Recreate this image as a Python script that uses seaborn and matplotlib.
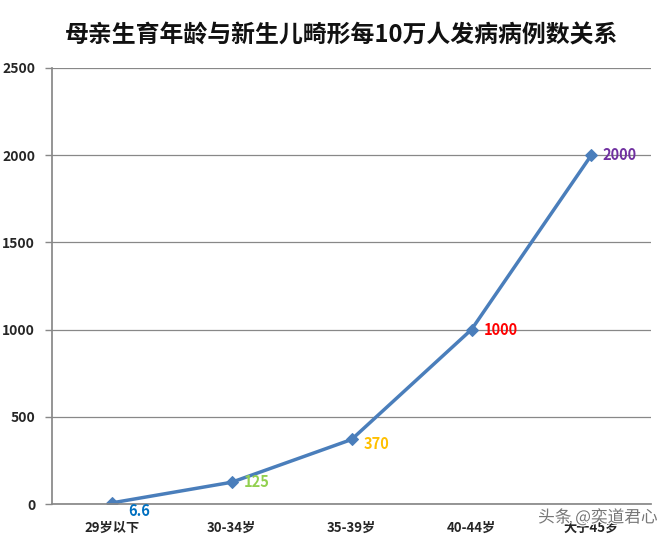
import matplotlib
matplotlib.use("Agg")
import matplotlib.pyplot as plt
import matplotlib.patheffects as pe
from matplotlib.ticker import FixedLocator
import seaborn as sns
import pandas as pd

categories = ["29岁以下", "30-34岁", "35-39岁", "40-44岁", "大于45岁"]
values = [6.6, 125, 370, 1000, 2000]
value_labels = ["6.6", "125", "370", "1000", "2000"]
label_colors = ["#0070C0", "#92D050", "#FFC000", "#FF0000", "#7030A0"]
yticks = [0, 500, 1000, 1500, 2000, 2500]
title = "母亲生育年龄与新生儿畸形每10万人发病病例数关系"

sns.set_theme(style="white")
plt.rcParams["font.family"] = ["Noto Sans CJK SC", "DejaVu Sans"]

df = pd.DataFrame({"pos": range(len(categories)), "value": values})

fig = plt.figure(figsize=(6.64, 5.42), dpi=100)
ax = fig.add_axes([0.078, 0.070, 0.903, 0.805])

sns.lineplot(data=df, x="pos", y="value", ax=ax, color="#4A7EBB", linewidth=2.5,
             marker="D", markersize=6, markeredgecolor="#4A7EBB")

ax.set_xlim(-0.5, len(categories) - 0.5)
ax.set_ylim(0, 2500)
ax.set_yticks(yticks)
ax.set_yticklabels([str(v) for v in yticks], fontsize=10, fontweight="bold")
ax.set_xticks(range(len(categories)))
ax.set_xticklabels(categories, fontsize=9.5, fontweight="bold")
ax.xaxis.set_minor_locator(FixedLocator([i - 0.5 for i in range(len(categories) + 1)]))
ax.tick_params(axis="x", which="major", length=0, pad=12)
ax.tick_params(axis="x", which="minor", length=5, color="#888888", width=1)
ax.tick_params(axis="y", which="major", length=5, color="#888888", width=1, left=True, pad=7)
ax.set_xlabel("")
ax.set_ylabel("")

ax.grid(axis="y", color="#888888", linewidth=0.9)
ax.set_axisbelow(True)
for s in ["top", "right"]:
    ax.spines[s].set_visible(False)
ax.spines["left"].set_color("#888888")
ax.spines["bottom"].set_color("#888888")

offsets = [(12, -6), (9, 0), (9, -3), (9, 0), (8, 0)]
for i, (v, lab, c) in enumerate(zip(values, value_labels, label_colors)):
    ax.annotate(lab, xy=(i, v), xytext=offsets[i], textcoords="offset points",
                color=c, fontsize=10.5, fontweight="bold", ha="left", va="center")

fig.text(0.515, 0.934, title, ha="center", va="center", fontsize=17.2, fontweight="bold", color="#111111")

fig.text(0.99, 0.045, "头条 @奕道君心", ha="right", va="center", fontsize=12, color="#777777",
         path_effects=[pe.withStroke(linewidth=2, foreground="white")])

fig.savefig("out.png", dpi=100)
